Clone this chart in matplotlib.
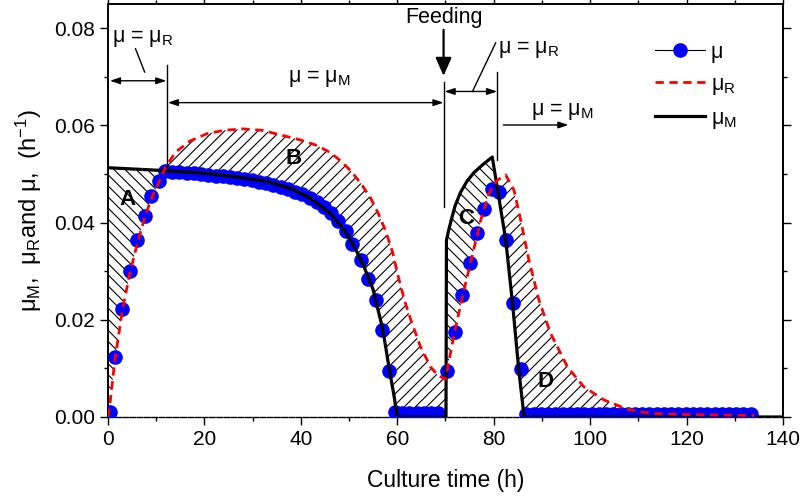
import numpy as np
import matplotlib
matplotlib.use("Agg")
import matplotlib.pyplot as plt
from matplotlib.lines import Line2D
from matplotlib.ticker import MultipleLocator, FormatStrFormatter

plt.rcParams['font.family'] = ['Liberation Sans', 'DejaVu Sans']
plt.rcParams['mathtext.fontset'] = 'custom'
plt.rcParams['mathtext.rm'] = 'Liberation Sans'
plt.rcParams['mathtext.it'] = 'Liberation Sans:italic'
plt.rcParams['mathtext.bf'] = 'Liberation Sans:bold'
plt.rcParams['mathtext.default'] = 'regular'
plt.rcParams['hatch.linewidth'] = 0.8

# ---- data: measured specific growth rate mu (points) ----
t_mu = [0.5, 1.4, 2.9, 4.5, 6.1, 7.6, 9.0, 10.5, 11.8, 13.3, 14.8, 16.3, 17.8, 19.3,
        20.8, 22.3, 23.8, 25.3, 26.8, 28.3, 29.8, 31.3, 32.8, 34.3, 35.8, 37.3, 38.8,
        40.3, 41.8, 43.3, 44.8, 46.3, 47.8, 49.3, 50.7, 52.4, 54.0, 55.5, 56.9, 58.3,
        59.6, 61.0, 62.5, 64.0, 65.5, 67.0, 68.5,
        70.4, 72.0, 73.5, 75.0, 76.6, 78.0, 79.6, 81.1, 82.5, 84.0, 85.6,
        86.8, 88.3, 89.8, 91.3, 92.8, 94.3, 95.8, 97.3, 98.8, 100.3, 101.8, 103.3,
        104.8, 106.3, 107.8, 109.3, 110.8, 112.3, 113.8, 115.3, 116.8, 118.3, 119.8,
        121.3, 122.8, 124.3, 125.8, 127.3, 128.8, 130.3, 131.8, 133.3]
mu = [0.0011, 0.0124, 0.0222, 0.0300, 0.0364, 0.0413, 0.0455, 0.0485, 0.0507, 0.0505,
      0.0504, 0.0503, 0.0502, 0.0500, 0.0499, 0.0497, 0.0495, 0.0493, 0.0491, 0.0489,
      0.0487, 0.0484, 0.0481, 0.0478, 0.0474, 0.0469, 0.0464, 0.0458, 0.0451, 0.0443,
      0.0432, 0.0419, 0.0403, 0.0383, 0.0357, 0.0323, 0.0285, 0.0241, 0.0179, 0.0095,
      0.0011, 0.0008, 0.0008, 0.0008, 0.0008, 0.0008, 0.0008,
      0.0095, 0.0175, 0.0251, 0.0317, 0.0378, 0.0429, 0.0470, 0.0463, 0.0364, 0.0235, 0.0098,
      0.0007, 0.0007, 0.0007, 0.0007, 0.0007, 0.0007, 0.0007, 0.0007, 0.0007, 0.0007,
      0.0007, 0.0007, 0.0007, 0.0007, 0.0007, 0.0007, 0.0007, 0.0007, 0.0007, 0.0007,
      0.0007, 0.0007, 0.0007, 0.0007, 0.0007, 0.0007, 0.0007, 0.0007, 0.0007, 0.0007,
      0.0007, 0.0007]

# ---- mu_R (red dashed) ----
t_R = [0.0, 0.5, 1.4, 2.9, 4.5, 6.1, 7.6, 9.0, 10.5, 12.0, 14.0, 17.0, 20.5, 24.0, 28.0,
       32.0, 36.0, 40.0, 43.0, 46.0, 48.5, 50.5, 52.5, 54.5, 56.0, 57.5, 59.0, 60.3,
       61.5, 62.8, 64.8, 66.9, 68.5, 70.0, 71.0, 72.0, 73.8, 75.5, 77.3, 79.0, 80.7,
       82.5, 84.2, 85.6, 87.3, 89.4, 91.8, 95.3, 98.7, 102.9, 107.7, 110.8, 113.6,
       120.0, 127.0, 134.0]
mu_R = [0.0, 0.0035, 0.0115, 0.0215, 0.0295, 0.0358, 0.0410, 0.0450, 0.0482, 0.0515,
        0.0545, 0.0568, 0.0583, 0.0590, 0.0593, 0.0590, 0.0580, 0.0570, 0.0560, 0.0545,
        0.0525, 0.0505, 0.0480, 0.0450, 0.0420, 0.0385, 0.0340, 0.0285, 0.0240, 0.0200,
        0.0145, 0.0103, 0.0085, 0.0078, 0.0130, 0.0180, 0.0260, 0.0330, 0.0405, 0.0460,
        0.0487, 0.0498, 0.0467, 0.0405, 0.0323, 0.0240, 0.0172, 0.0103, 0.0062, 0.0035,
        0.0016, 0.0010, 0.0007, 0.0005, 0.0004, 0.0003]

# ---- mu_M (black solid) ----
t_M = [0.0, 6.0, 12.0, 20.0, 26.0, 33.0, 38.0, 42.0, 46.0, 49.0, 51.0, 53.0, 55.0, 57.0,
       58.4, 59.3, 60.0, 70.1, 70.2, 70.6, 71.1, 72.0, 73.1, 74.5, 75.9, 77.8, 79.7,
       82.5, 83.9, 85.2, 86.3, 140.0]
mu_M = [0.0513, 0.0510, 0.0507, 0.0502, 0.0495, 0.0485, 0.0470, 0.0450, 0.0420, 0.0385,
        0.0352, 0.0312, 0.0262, 0.0180, 0.0095, 0.0045, 0.0, 0.0, 0.0364, 0.0382, 0.0402,
        0.0435, 0.0462, 0.0486, 0.0503, 0.0520, 0.0535, 0.0364, 0.0234, 0.0097, 0.0, 0.0]

x_ticks = [0, 20, 40, 60, 80, 100, 120, 140]
y_ticks = [0.00, 0.02, 0.04, 0.06, 0.08]

fig = plt.figure(figsize=(8.03, 5.00), dpi=100)
ax = fig.add_axes([108/803, 1-417/500, 675/803, 413/500])

# hatched areas between mu_M and mu_R
xg = np.linspace(0, 134, 4000)
mg = np.interp(xg, t_M, mu_M)
rg = np.interp(xg, t_R, mu_R)
regions = [((xg <= 12.5) & (mg >= rg), '\\\\\\'),
           ((xg >= 11.5) & (xg <= 70.15) & (rg >= mg), '///'),
           ((xg >= 70.15) & (xg <= 81) & (mg >= rg), '\\\\\\'),
           ((xg >= 79) & (xg <= 112) & (rg >= mg), '///')]
for mask, h in regions:
    ax.fill_between(xg, mg, rg, where=mask, facecolor='none', edgecolor='black',
                    linewidth=0, hatch=h, zorder=1, interpolate=True)

# series
ax.plot(t_mu, mu, ls='none', marker='o', ms=9.5, mfc='#0000ff', mec='#0000ff', zorder=3)
ax.plot(t_M, mu_M, color='black', lw=2.3, zorder=4)
ax.plot(t_R, mu_R, color='#ff0000', lw=2.0, dashes=(3, 2), zorder=5)

ax.set_xlim(0, 140)
ax.set_ylim(0, 0.085)
ax.set_xticks(x_ticks)
ax.set_yticks(y_ticks)
ax.yaxis.set_major_formatter(FormatStrFormatter('%.2f'))
ax.xaxis.set_minor_locator(MultipleLocator(10))
ax.yaxis.set_minor_locator(MultipleLocator(0.01))
ax.tick_params(which='both', direction='out', top=True, right=True, labelsize=15,
               width=1.0)
ax.tick_params(which='major', length=6)
ax.tick_params(which='minor', length=3)
for s in ax.spines.values():
    s.set_linewidth(1.4)
ax.spines['bottom'].set_linewidth(1.0)
ax.spines['bottom'].set_linestyle((0, (4, 1.2)))

ax.set_xlabel('Culture time (h)', fontsize=16.5, labelpad=14)
ax.set_ylabel('μ$_M$,  μ$_R$and μ,  (h$^{-1}$)', fontsize=17, labelpad=7)

# area labels
for lab, x, y in [('A', 4.0, 0.0447), ('B', 38.5, 0.0533), ('C', 74.2, 0.0409), ('D', 90.8, 0.0073)]:
    ax.text(x, y, lab, fontsize=16, fontweight='bold', ha='center', va='center', zorder=6)

# annotations
lk = dict(color='black', lw=1.0, zorder=6)
dbl = dict(arrowstyle='<|-|>,head_length=0.6,head_width=0.2', color='black', lw=1.0,
           mutation_scale=10, shrinkA=0, shrinkB=0)
one = dict(arrowstyle='-|>,head_length=0.6,head_width=0.2', color='black', lw=1.0,
           mutation_scale=10, shrinkA=0, shrinkB=0)

ax.text(7.3, 0.0771, 'μ = μ$_R$', fontsize=15.5, ha='center', va='baseline')
ax.plot([5.7, 7.6], [0.0758, 0.0710], **lk)
ax.annotate('', xy=(0.4, 0.0692), xytext=(12.1, 0.0692), arrowprops=dbl)
ax.plot([12.3, 12.3], [0.0725, 0.0513], **lk)

ax.text(43.8, 0.0690, 'μ = μ$_M$', fontsize=15.5, ha='center', va='baseline')
ax.annotate('', xy=(12.4, 0.0647), xytext=(69.6, 0.0647), arrowprops=dbl)
ax.plot([69.7, 69.7], [0.0690, 0.0433], **lk)

ax.text(69.6, 0.0811, 'Feeding', fontsize=15.5, ha='center', va='baseline')
ax.annotate('', xy=(69.6, 0.0702), xytext=(69.6, 0.0797),
            arrowprops=dict(arrowstyle='-|>,head_length=0.5,head_width=0.22', color='black',
                            lw=1.6, mutation_scale=22, shrinkA=0, shrinkB=0))

ax.text(87.2, 0.0750, 'μ = μ$_R$', fontsize=15.5, ha='center', va='baseline')
ax.plot([80.4, 75.6], [0.0770, 0.0670], **lk)
ax.annotate('', xy=(69.8, 0.0670), xytext=(80.7, 0.0670), arrowprops=dbl)
ax.plot([80.7, 80.7], [0.0711, 0.0529], **lk)

ax.text(94.3, 0.0622, 'μ = μ$_M$', fontsize=15.5, ha='center', va='baseline')
ax.annotate('', xy=(95.5, 0.0601), xytext=(82.0, 0.0601), arrowprops=one)

# legend
handles = [Line2D([], [], color='black', lw=0.8, marker='o', ms=9.5, mfc='#0000ff', mec='#0000ff'),
           Line2D([], [], color='#ff0000', lw=2.0, dashes=(3, 2)),
           Line2D([], [], color='black', lw=2.3)]
labels = ['μ', 'μ$_R$', 'μ$_M$']
ax.legend(handles, labels, loc='upper left', bbox_to_anchor=(655/803, 1-42/500),
          bbox_transform=fig.transFigure, frameon=False, fontsize=15.5, borderpad=0,
          handlelength=2.3, handletextpad=0.3, labelspacing=0.5, borderaxespad=0)

fig.savefig('out.png', dpi=100)
